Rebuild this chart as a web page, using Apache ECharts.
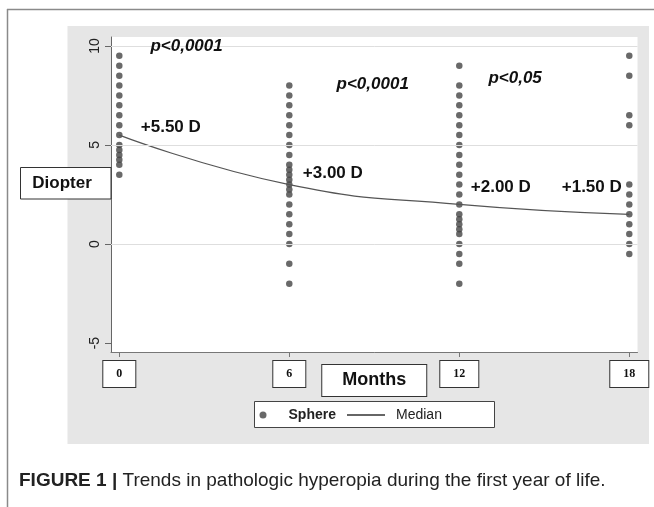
<!DOCTYPE html>
<html><head><meta charset="utf-8">
<script src="https://cdn.jsdelivr.net/npm/echarts@6/dist/echarts.min.js"></script>
<style>html,body{margin:0;padding:0;background:#fff}#c{width:654px;height:507px}</style>
</head><body><div id="c"></div>
<script>
// ---- data ----
const months = [0, 6, 12, 18];
const sphere0 = [9.5, 9.0, 8.5, 8.0, 7.5, 7.0, 6.5, 6.0, 5.5, 5.0, 4.75, 4.5, 4.25, 4.0, 3.5];
const sphere6 = [8.0, 7.5, 7.0, 6.5, 6.0, 5.5, 5.0, 4.5, 4.0, 3.75, 3.5, 3.25, 3.0, 2.75, 2.5, 2.0, 1.5, 1.0, 0.5, 0.0, -1.0, -2.0];
const sphere12 = [9.0, 8.0, 7.5, 7.0, 6.5, 6.0, 5.5, 5.0, 4.5, 4.0, 3.5, 3.0, 2.5, 2.0, 1.5, 1.25, 1.0, 0.75, 0.5, 0.0, -0.5, -1.0, -2.0];
const sphere18 = [9.5, 8.5, 6.5, 6.0, 3.0, 2.5, 2.0, 1.5, 1.0, 0.5, 0.0, -0.5];
const median = [5.5, 3.0, 2.0, 1.5];
const medianLabels = ['+5.50 D', '+3.00 D', '+2.00 D', '+1.50 D'];
const pValues = ['p<0,0001', 'p<0,0001', 'p<0,05'];
const yTicks = [-5, 0, 5, 10];
const gridValues = [0, 5, 10];
const seriesNames = ['Sphere', 'Median'];
const yTitle = 'Diopter';
const xTitle = 'Months';
const caption = 'Trends in pathologic hyperopia during the first year of life.';
const captionLead = 'FIGURE 1 |';

// ---- build ----
const sphereCols = [sphere0, sphere6, sphere12, sphere18];
const sphereData = [];
sphereCols.forEach((col, i) => col.forEach(v => sphereData.push([months[i], v])));
const medianData = months.map((m, i) => [m, median[i]]);

const chart = echarts.init(document.getElementById('c'), null, {renderer: 'canvas'});
const ink = '#444';
const boxText = {
  fontFamily: 'Liberation Serif', fontWeight: 'bold', fontSize: 12, lineHeight: 14, color: '#111',
  backgroundColor: '#fff', borderColor: '#333', borderWidth: 1, padding: [6, 13, 6, 13]
};
const annoStyle = {fontFamily: 'Liberation Sans', fontWeight: 'bold', fontSize: 17, color: '#111'};
const medianOffsets = [[21, -8, 'right'], [13, -11, 'right'], [11, -17, 'right'], [-7, -27, 'left']];
const pCoords = [[1.08, 9.98], [7.65, 8.07], [13.01, 8.37]];
const legendText = {fontFamily: 'Liberation Sans', fontSize: 14, color: '#222'};

chart.setOption({
  animation: false,
  backgroundColor: '#fff',
  grid: {left: 111, top: 37, width: 526.5, height: 315, show: true, backgroundColor: '#fff', borderWidth: 0, containLabel: false, outerBoundsMode: 'none'},
  xAxis: {
    type: 'value', min: -0.293, max: 18.29,
    axisLine: {show: true, onZero: false, lineStyle: {color: '#777', width: 1}},
    axisTick: {show: true, customValues: months, length: 5, lineStyle: {color: '#777'}},
    axisLabel: Object.assign({customValues: months, margin: 9}, boxText),
    splitLine: {show: false},
    name: xTitle, nameLocation: 'middle', nameGap: 13, nameMoveOverlap: false,
    nameTextStyle: {fontFamily: 'Liberation Sans', fontWeight: 'bold', fontSize: 18, lineHeight: 21, color: '#111',
      backgroundColor: '#fff', borderColor: '#333', borderWidth: 1, padding: [5, 20, 5, 20]}
  },
  yAxis: {
    type: 'value', min: -5.45, max: 10.45,
    axisLine: {show: true, onZero: false, lineStyle: {color: '#666', width: 1}},
    axisTick: {show: true, customValues: yTicks, length: 6, lineStyle: {color: '#666'}},
    axisLabel: {customValues: yTicks, rotate: 90, margin: 9, fontSize: 14, color: '#222', fontFamily: 'Liberation Sans'},
    splitLine: {show: false}
  },
  legend: [
    {
      data: [{name: seriesNames[0], icon: 'circle', textStyle: {fontWeight: 'bold', padding: [0, 0, 0, 17]}}],
      left: 259.5, top: 408, padding: 0, itemWidth: 7, itemHeight: 7,
      textStyle: legendText, selectedMode: false
    },
    {
      data: [{name: seriesNames[1], icon: 'path://M0,0H38V1.5H0Z', itemStyle: {color: '#333'}, textStyle: {fontWeight: 'normal', padding: [0, 0, 0, 6]}}],
      left: 347, top: 408, padding: 0, itemWidth: 38, itemHeight: 7,
      textStyle: legendText, selectedMode: false
    }
  ],
  graphic: [
    {type: 'rect', z: -100, shape: {x: 67.5, y: 26, width: 581.5, height: 418}, style: {fill: '#e6e6e6'}},
    {type: 'line', z: -90, shape: {x1: 7.5, y1: 9, x2: 7.5, y2: 507}, style: {stroke: '#8a8a8a', lineWidth: 1.5}},
    {type: 'line', z: -90, shape: {x1: 7, y1: 9.5, x2: 654, y2: 9.5}, style: {stroke: '#8a8a8a', lineWidth: 1.5}},
    {type: 'rect', z: 100, shape: {x: 20.5, y: 167.5, width: 90.5, height: 31.5}, style: {fill: '#fff', stroke: '#333', lineWidth: 1}},
    {type: 'text', z: 101, style: {x: 62, y: 183.5, text: yTitle, fontFamily: 'Liberation Sans', fontWeight: 'bold', fontSize: 17, fill: '#111', align: 'center', verticalAlign: 'middle'}},
    {type: 'rect', z: 1, shape: {x: 254.5, y: 401.5, width: 240, height: 26}, style: {fill: '#fff', stroke: '#444', lineWidth: 1}},
    {type: 'text', z: 101, style: {x: 19, y: 481, text: '{b|' + captionLead + '} ' + caption, fontFamily: 'Liberation Sans', fontSize: 19, fill: '#222', verticalAlign: 'middle',
      rich: {b: {fontFamily: 'Liberation Sans', fontWeight: 'bold', fontSize: 19, fill: '#222'}}}}
  ],
  series: [
    {
      name: 'grid', type: 'line', data: [], z: 1, silent: true,
      markLine: {silent: true, symbol: ['none', 'none'], label: {show: false}, animation: false,
        lineStyle: {color: '#dedede', width: 1, type: 'solid'},
        data: gridValues.map(v => ({yAxis: v}))},
      markPoint: {silent: true, symbol: 'circle', symbolSize: 1, itemStyle: {color: 'rgba(0,0,0,0)'},
        label: Object.assign({show: true, position: 'right', distance: 0, fontStyle: 'italic'}, annoStyle),
        data: pValues.map((t, i) => ({coord: pCoords[i], label: {formatter: t}}))}
    },
    {
      name: seriesNames[0], type: 'scatter', data: sphereData, z: 3,
      symbol: 'circle', symbolSize: 6.5, itemStyle: {color: ink}
    },
    {
      name: seriesNames[1], type: 'line', data: medianData, z: 4, smooth: 0.5,
      symbol: 'none', lineStyle: {color: '#555', width: 1.2}, itemStyle: {color: '#555'},
      markPoint: {silent: true, symbol: 'circle', symbolSize: 1, itemStyle: {color: 'rgba(0,0,0,0)'},
        label: Object.assign({show: true, distance: 0}, annoStyle),
        data: medianData.map((d, i) => ({coord: d, label: {formatter: medianLabels[i], position: medianOffsets[i][2], offset: [medianOffsets[i][0], medianOffsets[i][1]]}}))}
    }
  ]
});
</script>
</body></html>
